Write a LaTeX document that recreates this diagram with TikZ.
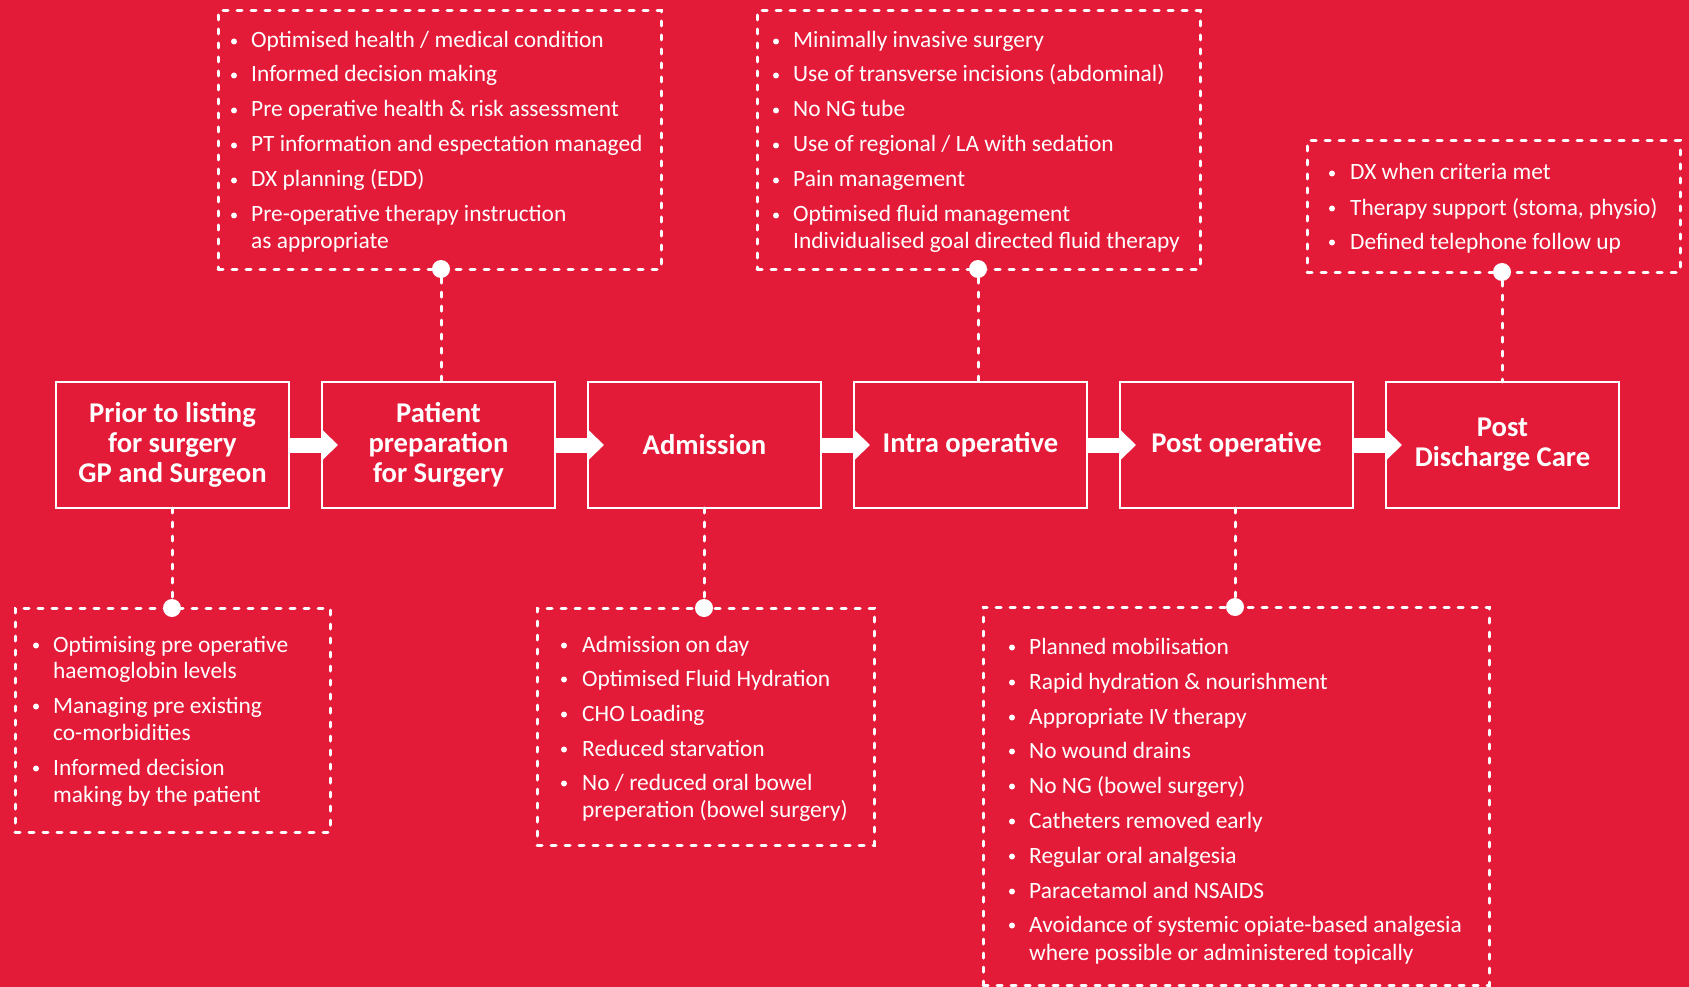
\documentclass[tikz,border=0pt]{standalone}
\usepackage{fontspec}
\setmainfont{Carlito}
\usetikzlibrary{arrows.meta}
\definecolor{bg}{HTML}{E31A38}
\tikzset{
 stage/.style={draw=white, line width=2.5pt, minimum width=233pt, minimum height=126pt, inner sep=0pt, outer sep=0pt, align=center, text=white, font=\bfseries\fontsize{28.6}{30}\selectfont},
 infobox/.style={draw=white, line width=3pt, line cap=round, dash pattern=on 5pt off 9pt, inner sep=0pt, outer sep=0pt, anchor=north west},
 dotline/.style={draw=white, line width=3pt, line cap=round, dash pattern=on 5pt off 9pt},
 joint/.style={circle, fill=white, minimum size=18pt, inner sep=0pt},
 bul/.style={circle, fill=white, minimum size=6pt, inner sep=0pt},
 itm/.style={anchor=base west, inner sep=0pt, text=white, font=\fontsize{23.4}{27}\selectfont},
 flow/.style={draw=white, line width=15pt, -{Triangle[length=16pt,width=30pt]}},
}
\begin{document}
\begin{tikzpicture}[x=1pt,y=-1pt]
\fill[bg] (0,0) rectangle (1689,987);
\useasboundingbox (0,0) rectangle (1689,987);

% stage boxes
\node[stage] (s1) at (172.5,445) {Prior to listing\\for surgery\\GP and Surgeon};
\node[stage] (s2) at (438.5,445) {Patient\\preparation\\for Surgery};
\node[stage] (s3) at (704.5,445) {Admission};
\node[stage] (s4) at (970.5,445) {Intra operative};
\node[stage] (s5) at (1236.5,445) {Post operative};
\node[stage] (s6) at (1502.5,445) {Post\\Discharge Care};

% flow arrows
\draw[flow] (s1.east) -- ([xshift=16pt]s2.west);
\draw[flow] (s2.east) -- ([xshift=16pt]s3.west);
\draw[flow] (s3.east) -- ([xshift=16pt]s4.west);
\draw[flow] (s4.east) -- ([xshift=16pt]s5.west);
\draw[flow] (s5.east) -- ([xshift=16pt]s6.west);

% info boxes
\node[infobox, minimum width=443pt, minimum height=258pt] (tl) at (218,11) {};
\node[infobox, minimum width=443pt, minimum height=258pt] (tm) at (757,11) {};
\node[infobox, minimum width=373pt, minimum height=131pt] (tr) at (1307,141) {};
\node[infobox, minimum width=315pt, minimum height=224pt] (bl) at (15,608) {};
\node[infobox, minimum width=337pt, minimum height=237pt] (bm) at (537,608) {};
\node[infobox, minimum width=506pt, minimum height=378pt] (br) at (983,607) {};

% joints
\node[joint] (tlc) at (441,269) {};
\node[joint] (tmc) at (978,269) {};
\node[joint] (trc) at (1502,272) {};
\node[joint] (blc) at (172,608) {};
\node[joint] (bmc) at (704,608) {};
\node[joint] (brc) at (1235,607) {};

% dotted connectors
\draw[dotline] (tlc) -- (tlc |- s2.north);
\draw[dotline] (tmc) -- (tmc |- s4.north);
\draw[dotline] (trc) -- (trc |- s6.north);
\draw[dotline] (blc |- s1.south) -- (blc);
\draw[dotline] (bmc |- s3.south) -- (bmc);
\draw[dotline] (brc |- s5.south) -- (brc);

% top-left list
\foreach \yy/\tx [count=\i] in {48/{Optimised health / medical condition}, 82/{Informed decision making}, 117/{Pre operative health \& risk assessment}, 152/{PT information and espectation managed}, 187/{DX planning (EDD)}, 222/{Pre-operative therapy instruction}, 248/{as appropriate}}
  \node[itm] (tl-t\i) at (251,\yy) {\tx};
\foreach \yy [count=\i] in {48,82,117,152,187,222}
  \node[bul] (tl-b\i) at (234,\yy-6.5) {};

% top-middle list
\foreach \yy/\tx [count=\i] in {48/{Minimally invasive surgery}, 82/{Use of transverse incisions (abdominal)}, 117/{No NG tube}, 152/{Use of regional / LA with sedation}, 187/{Pain management}, 222/{Optimised fluid management}, 248/{Individualised goal directed fluid therapy}}
  \node[itm] (tm-t\i) at (793,\yy) {\tx};
\foreach \yy [count=\i] in {48,82,117,152,187,222}
  \node[bul] (tm-b\i) at (776,\yy-6.5) {};

% top-right list
\foreach \yy/\tx [count=\i] in {180/{DX when criteria met}, 215/{Therapy support (stoma, physio)}, 249/{Defined telephone follow up}}
  \node[itm] (tr-t\i) at (1350,\yy) {\tx};
\foreach \yy [count=\i] in {180,215,249}
  \node[bul] (tr-b\i) at (1332,\yy-6.5) {};

% bottom-left list
\foreach \yy/\tx [count=\i] in {652/{Optimising pre operative}, 678/{haemoglobin levels}, 713/{Managing pre existing}, 740/{co-morbidities}, 775/{Informed decision}, 802/{making by the patient}}
  \node[itm] (bl-t\i) at (53,\yy) {\tx};
\foreach \yy [count=\i] in {652,713,775}
  \node[bul] (bl-b\i) at (36,\yy-6.5) {};

% bottom-middle list
\foreach \yy/\tx [count=\i] in {652/{Admission on day}, 686/{Optimised Fluid Hydration}, 721/{CHO Loading}, 756/{Reduced starvation}, 790/{No / reduced oral bowel}, 817/{preperation (bowel surgery)}}
  \node[itm] (bm-t\i) at (582,\yy) {\tx};
\foreach \yy [count=\i] in {652,686,721,756,790}
  \node[bul] (bm-b\i) at (564,\yy-6.5) {};

% bottom-right list
\foreach \yy/\tx [count=\i] in {654/{Planned mobilisation}, 689/{Rapid hydration \& nourishment}, 724/{Appropriate IV therapy}, 758/{No wound drains}, 793/{No NG (bowel surgery)}, 828/{Catheters removed early}, 863/{Regular oral analgesia}, 898/{Paracetamol and NSAIDS}, 932/{Avoidance of systemic opiate-based analgesia}, 960/{where possible or administered topically}}
  \node[itm] (br-t\i) at (1029,\yy) {\tx};
\foreach \yy [count=\i] in {654,689,724,758,793,828,863,898,932}
  \node[bul] (br-b\i) at (1012,\yy-6.5) {};
\end{tikzpicture}
\end{document}
